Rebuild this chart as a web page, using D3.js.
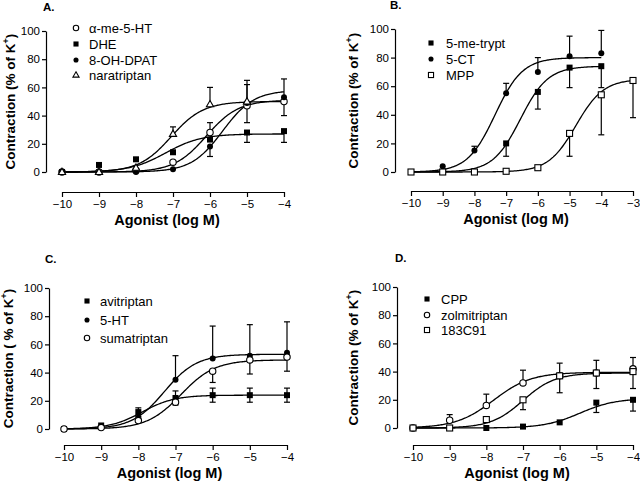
<!DOCTYPE html>
<html><head><meta charset="utf-8">
<script src="https://cdn.jsdelivr.net/npm/d3@7"></script>
<style>body{margin:0;background:#fff}svg{display:block}text{font-family:"Liberation Sans",Arial,Helvetica,sans-serif;fill:#000}</style>
</head><body>
<svg id="chart" width="640" height="485"></svg>
<script>
// ---------- DATA ----------
const logDose = [-10, -9, -8, -7, -6, -5, -4];
const logDoseB = [-10, -9, -8, -7, -6, -5, -4, -3];
const logDoseNara = [-10, -9, -8, -7, -6, -5];
const yTicks = [0, 20, 40, 60, 80, 100];
const xTicksA = [-10, -9, -8, -7, -6, -5, -4];
const xTicksB = [-10, -9, -8, -7, -6, -5, -4, -3];

// Panel A
const alphaMe5HT = [0, 0, 1, 7, 28, 47, 50];
const alphaMe5HTUp = [0, 0, 0, 0, 7, 0, 0];
const alphaMe5HTDown = [0, 0, 0, 0, 0, 12, 10];
const dhe = [0, 5, 9, 14, 23, 28, 29];
const dheUp = [0, 0, 0, 0, 0, 0, 0];
const dheDown = [0, 0, 0, 0, 0, 7, 8];
const ohDpat = [0, 0, 0, 2, 18, 49, 53];
const ohDpatUp = [0, 0, 0, 0, 0, 16, 13];
const ohDpatDown = [0, 0, 0, 0, 7, 0, 0];
const naratriptan = [0, 0, 3, 27, 48, 50];
const naratriptanUp = [0, 0, 0, 5, 12, 12];
const naratriptanDown = [0, 0, 0, 0, 0, 0];

// Panel B
const meTrypt = [0, 0, 0, 20, 56, 73, 74];
const meTryptUp = [0, 0, 0, 0, 0, 0, 0];
const meTryptDown = [0, 0, 0, 9, 12, 14, 15];
const ct5 = [0, 4, 15, 55, 70, 81, 83];
const ct5Up = [0, 0, 3, 7, 10, 14, 16];
const ct5Down = [0, 0, 0, 0, 0, 0, 0];
const mpp = [0, 0, 0, 0.5, 3, 27, 54, 64];
const mppUp = [0, 0, 0, 0, 0, 0, 0, 0];
const mppDown = [0, 0, 0, 0, 0, 16, 28, 26];

// Panel C
const avitriptan = [0, 2.5, 12, 22, 24, 24, 24];
const avitriptanUp = [0, 0, 3, 5, 5, 5, 5];
const avitriptanDown = [0, 0, 3, 0, 5, 5, 5];
const ht5 = [0, 1, 8, 35, 50, 52, 54];
const ht5Up = [0, 0, 0, 17, 23, 22, 22];
const ht5Down = [0, 0, 0, 0, 0, 0, 0];
const sumatriptan = [0, 1, 6, 19, 41, 49, 51];
const sumatriptanUp = [0, 0, 0, 0, 0, 0, 0];
const sumatriptanDown = [0, 0, 0, 2, 8, 10, 10];

// Panel D
const cpp = [0, 0, 0, 1, 4, 18, 20];
const cppUp = [0, 0, 0, 0, 0, 0, 0];
const cppDown = [0, 0, 0, 0, 0, 7, 8];
const zolmitriptan = [0, 5.5, 16, 32, 37, 39, 42];
const zolmitriptanUp = [0, 4, 8, 9, 9, 9, 8];
const zolmitriptanDown = [0, 0, 0, 0, 0, 0, 0];
const c183C91 = [0, 0, 6, 20, 37, 39, 40];
const c183C91Up = [0, 0, 0, 0, 0, 0, 0];
const c183C91Down = [0, 0, 0, 7, 12, 11, 12];

// Fitted sigmoid parameters (top, logEC50, Hill slope)
const fitTop =     {alphaMe5HT: 51, dhe: 27, ohDpat: 58, naratriptan: 50, meTrypt: 74, ct5: 80, mpp: 65, avitriptan: 24, ht5: 53, sumatriptan: 49, cpp: 21, zolmitriptan: 39.5, c183C91: 39};
const fitLogEC50 = {alphaMe5HT: -6.1, dhe: -7.2, ohDpat: -5.66, naratriptan: -7.05, meTrypt: -6.55, ct5: -7.35, mpp: -4.8, avitriptan: -7.9, ht5: -7.3, sumatriptan: -6.85, cpp: -5.45, zolmitriptan: -7.8, c183C91: -7.0};
const fitHill =    {alphaMe5HT: 1, dhe: 0.9, ohDpat: 1.03, naratriptan: 1, meTrypt: 1, ct5: 1, mpp: 1, avitriptan: 1, ht5: 1, sumatriptan: 0.95, cpp: 0.9, zolmitriptan: 0.85, c183C91: 1};

// ---------- LAYOUT ----------
const panels = [
  {label: "A.", lx: 43, ly: 11, axX: 46, y0: 172, y100: 31, xAxY: 192, x0: 62, x1: 284, dom: [-10, -4], xt: xTicksA,
   ytitle: "Contraction (% of K", ytX: 15, legend: {mx: 76, tx: 89, ys: [28, 44, 60, 75]},
   series: [
     {name: "α-me-5-HT", key: "alphaMe5HT", x: logDose, y: alphaMe5HT, up: alphaMe5HTUp, dn: alphaMe5HTDown, m: "ocircle"},
     {name: "DHE", key: "dhe", x: logDose, y: dhe, up: dheUp, dn: dheDown, m: "fsquare"},
     {name: "8-OH-DPAT", key: "ohDpat", x: logDose, y: ohDpat, up: ohDpatUp, dn: ohDpatDown, m: "fcircle"},
     {name: "naratriptan", key: "naratriptan", x: logDoseNara, y: naratriptan, up: naratriptanUp, dn: naratriptanDown, m: "otri", curveTo: -4}
   ]},
  {label: "B.", lx: 390, ly: 9, axX: 395, y0: 172, y100: 29, xAxY: 191, x0: 411, x1: 633, dom: [-10, -3], xt: xTicksB,
   ytitle: "Contraction (% of K", ytX: 358, legend: {mx: 431, tx: 446, ys: [43, 59, 75]},
   series: [
     {name: "5-me-trypt", key: "meTrypt", x: logDose, y: meTrypt, up: meTryptUp, dn: meTryptDown, m: "fsquare"},
     {name: "5-CT", key: "ct5", x: logDose, y: ct5, up: ct5Up, dn: ct5Down, m: "fcircle"},
     {name: "MPP", key: "mpp", x: logDoseB, y: mpp, up: mppUp, dn: mppDown, m: "osquare"}
   ]},
  {label: "C.", lx: 45, ly: 263, axX: 49, y0: 429, y100: 288, xAxY: 445, x0: 64, x1: 287, dom: [-10, -4], xt: xTicksA,
   ytitle: "Contraction ( % of K", ytX: 13, legend: {mx: 87, tx: 100, ys: [301, 320, 338]},
   series: [
     {name: "avitriptan", key: "avitriptan", x: logDose, y: avitriptan, up: avitriptanUp, dn: avitriptanDown, m: "fsquare"},
     {name: "5-HT", key: "ht5", x: logDose, y: ht5, up: ht5Up, dn: ht5Down, m: "fcircle"},
     {name: "sumatriptan", key: "sumatriptan", x: logDose, y: sumatriptan, up: sumatriptanUp, dn: sumatriptanDown, m: "ocircle"}
   ]},
  {label: "D.", lx: 395, ly: 262, axX: 397, y0: 428, y100: 287, xAxY: 445, x0: 413, x1: 633, dom: [-10, -4], xt: xTicksA,
   ytitle: "Contraction (% of K", ytX: 358, legend: {mx: 427, tx: 441, ys: [299, 315, 330]},
   series: [
     {name: "CPP", key: "cpp", x: logDose, y: cpp, up: cppUp, dn: cppDown, m: "fsquare"},
     {name: "zolmitriptan", key: "zolmitriptan", x: logDose, y: zolmitriptan, up: zolmitriptanUp, dn: zolmitriptanDown, m: "ocircle"},
     {name: "183C91", key: "c183C91", x: logDose, y: c183C91, up: c183C91Up, dn: c183C91Down, m: "osquare"}
   ]}
];

const svg = d3.select("#chart");
svg.append("rect").attr("width", 640).attr("height", 485).attr("fill", "#fff");

function marker(g, type, cx, cy, scale) {
  const s = scale || 1;
  if (type === "fsquare") g.append("rect").attr("x", cx - 3 * s).attr("y", cy - 3 * s).attr("width", 6 * s).attr("height", 6 * s).attr("fill", "#000");
  else if (type === "osquare") g.append("rect").attr("x", cx - 3 * s).attr("y", cy - 3 * s).attr("width", 6 * s).attr("height", 6 * s).attr("fill", "#fff").attr("stroke", "#000").attr("stroke-width", 1.1);
  else if (type === "fcircle") g.append("circle").attr("cx", cx).attr("cy", cy).attr("r", 3 * s).attr("fill", "#000");
  else if (type === "ocircle") g.append("circle").attr("cx", cx).attr("cy", cy).attr("r", 3.2 * s).attr("fill", "#fff").attr("stroke", "#000").attr("stroke-width", 1.1);
  else if (type === "otri") {
    const r = 3.8 * s;
    g.append("path").attr("d", `M${cx},${cy - r}L${cx + r * 0.95},${cy + r * 0.65}L${cx - r * 0.95},${cy + r * 0.65}Z`).attr("fill", "#fff").attr("stroke", "#000").attr("stroke-width", 1.1);
  }
}

panels.forEach(p => {
  const g = svg.append("g");
  const x = d3.scaleLinear().domain(p.dom).range([p.x0, p.x1]);
  const y = d3.scaleLinear().domain([0, 100]).range([p.y0, p.y100]);

  // y axis
  const ya = g.append("g").attr("transform", `translate(${p.axX},0)`)
    .call(d3.axisLeft(y).tickValues(yTicks).tickSize(4).tickPadding(2).tickSizeOuter(0));
  ya.select(".domain").attr("stroke-width", 1.2);
  ya.selectAll(".tick line").attr("stroke-width", 1.2);
  ya.selectAll("text").attr("font-size", 11.5).attr("font-family", "Liberation Sans, Arial, sans-serif");

  // x axis (offset)
  const xa = g.append("g").attr("transform", `translate(0,${p.xAxY})`)
    .call(d3.axisBottom(x).tickValues(p.xt).tickFormat(d3.format("d")).tickSize(5).tickPadding(3).tickSizeOuter(0));
  xa.select(".domain").attr("stroke-width", 1.2);
  xa.selectAll(".tick line").attr("stroke-width", 1.2);
  xa.selectAll("text").attr("font-size", 11.5).attr("font-family", "Liberation Sans, Arial, sans-serif");

  // titles
  g.append("text").attr("x", (p.x0 + p.x1) / 2 - 6).attr("y", p.xAxY + 33).attr("text-anchor", "middle")
    .attr("font-size", 14.5).attr("font-weight", "bold").text("Agonist (log M)");
  const yt = g.append("text").attr("transform", `translate(${p.ytX},${(p.y0 + p.y100) / 2}) rotate(-90)`)
    .attr("text-anchor", "middle").attr("font-size", 13.5).attr("font-weight", "bold");
  yt.append("tspan").text(p.ytitle);
  yt.append("tspan").attr("dy", -6).attr("font-size", 9).text("+");
  yt.append("tspan").attr("dy", 6).text(")");
  g.append("text").attr("x", p.lx).attr("y", p.ly).attr("font-size", 11.5).attr("font-weight", "bold").text(p.label);

  // curves
  const line = d3.line().x(d => x(d[0])).y(d => y(d[1]));
  p.series.forEach(s => {
    const lo = s.x[0], hi = s.curveTo !== undefined ? s.curveTo : s.x[s.x.length - 1];
    const pts = d3.range(0, 201).map(i => {
      const lx = lo + (hi - lo) * i / 200;
      return [lx, fitTop[s.key] / (1 + Math.pow(10, (fitLogEC50[s.key] - lx) * fitHill[s.key]))];
    });
    g.append("path").attr("d", line(pts)).attr("fill", "none").attr("stroke", "#000").attr("stroke-width", 1.3);
  });

  // error bars
  p.series.forEach(s => {
    s.x.forEach((xv, i) => {
      const cx = x(xv);
      [[s.up[i], 1], [s.dn[i], -1]].forEach(([e, dir]) => {
        if (!e) return;
        const yEnd = y(s.y[i] + dir * e);
        g.append("line").attr("x1", cx).attr("x2", cx).attr("y1", y(s.y[i])).attr("y2", yEnd).attr("stroke", "#000").attr("stroke-width", 1.2);
        g.append("line").attr("x1", cx - 3).attr("x2", cx + 3).attr("y1", yEnd).attr("y2", yEnd).attr("stroke", "#000").attr("stroke-width", 1.2);
      });
    });
  });

  // markers
  p.series.forEach(s => {
    s.x.forEach((xv, i) => marker(g, s.m, x(xv), y(s.y[i])));
  });

  // legend
  p.series.forEach((s, i) => {
    marker(g, s.m, p.legend.mx, p.legend.ys[i], 0.85);
    g.append("text").attr("x", p.legend.tx).attr("y", p.legend.ys[i] + 4.5).attr("font-size", 13).text(s.name);
  });
});
</script>
</body></html>
